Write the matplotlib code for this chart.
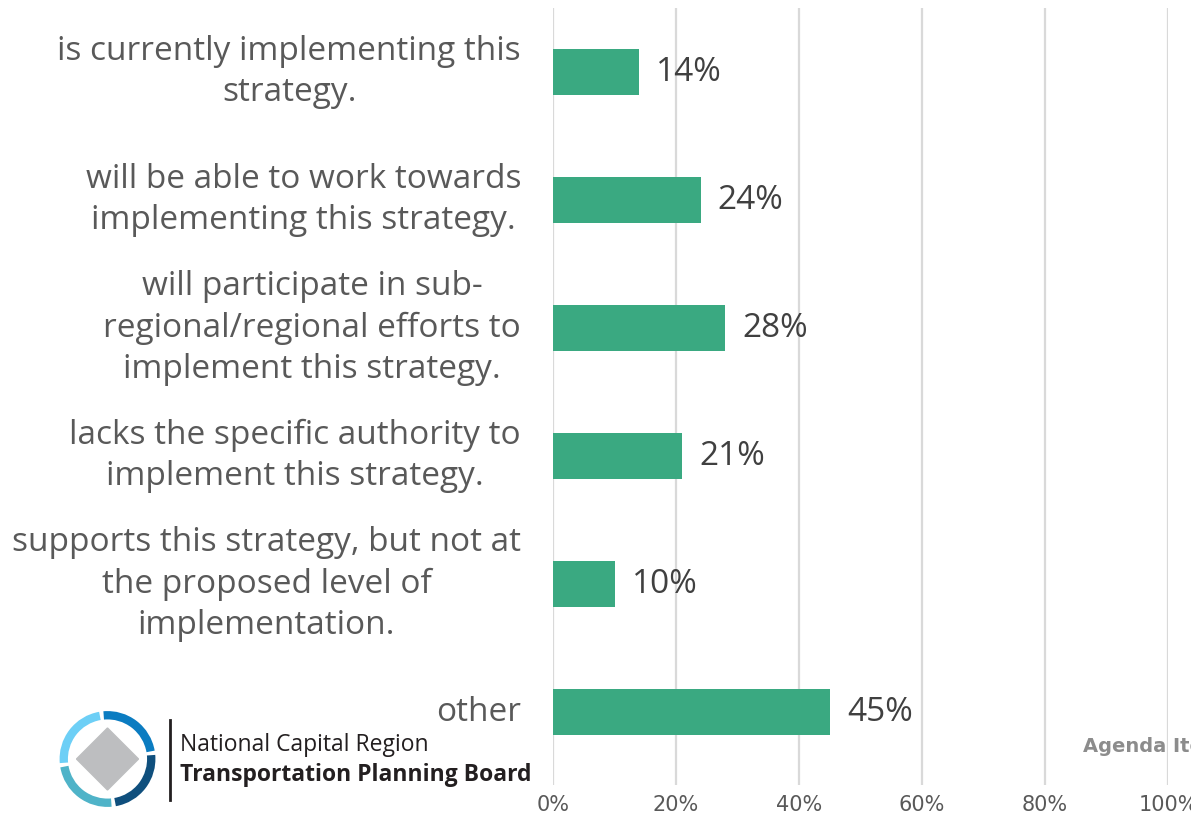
import matplotlib
matplotlib.use("Agg")
import matplotlib.pyplot as plt
from matplotlib.patches import Polygon, Arc

# chart data
categories = [
    "is currently implementing this\nstrategy.",
    "will be able to work towards\nimplementing this strategy.",
    "will participate in sub-\nregional/regional efforts to\nimplement this strategy.",
    "lacks the specific authority to\nimplement this strategy.",
    "supports this strategy, but not at\nthe proposed level of\nimplementation.",
    "other",
]
values = [14, 24, 28, 21, 10, 45]
xticks = [0, 20, 40, 60, 80, 100]
xticklabels = ["0%", "20%", "40%", "60%", "80%", "100%"]

bar_color = "#3aa981"
label_gray = "#595959"

fig = plt.figure(figsize=(11.91, 8.14), dpi=100)
ax = fig.add_axes([553/1191, 1-785/814, (1168-553)/1191, (785-8)/814])

ypos = list(range(len(categories)))
ax.barh(ypos, values, height=0.355, color=bar_color, zorder=3)
for y, v in zip(ypos, values):
    ax.text(v + 2.8, y, f"{v}%", va="center", ha="left", fontsize=24,
            color="#404040", family="Open Sans")

ax.set_xlim(0, 100)
ax.set_ylim(5.57, -0.5)
ax.set_xticks(xticks)
ax.set_xticklabels(xticklabels, fontsize=15, color=label_gray,
                   family="Liberation Sans Narrow")
ax.set_yticks([])
ax.tick_params(axis="x", length=0, pad=7)
ax.grid(axis="x", color="#d9d9d9", linewidth=1.6, zorder=0)
for s in ax.spines.values():
    s.set_visible(False)

# category labels, block right-aligned, lines centred
for y, c in zip(ypos, categories):
    ax.text(-0.052, y, c, transform=ax.get_yaxis_transform(), ha="right",
            va="center", multialignment="center", fontsize=24,
            color=label_gray, family="Open Sans", linespacing=1.32)

fig.text(1083/1191, 1-747/814, "Agenda Item", fontsize=14, color="#8c8c8c",
         family="Liberation Sans Narrow", fontweight="bold", va="center")

# logo
lax = fig.add_axes([50/1191, 1-814/814, 115/1191, 110/814])
lax.set_xlim(-1.1, 1.1)
lax.set_ylim(-1.1, 1.1)
lax.set_aspect("equal")
lax.axis("off")
lax.add_patch(Polygon([[0, 0.62], [0.62, 0], [0, -0.62], [-0.62, 0]],
                      closed=True, color="#bdbec0"))
lax.add_patch(Arc((0, 0), 1.75, 1.75, angle=0, theta1=100, theta2=185,
                  color="#6dcff6", lw=6))
lax.add_patch(Arc((0, 0), 1.75, 1.75, angle=0, theta1=10, theta2=95,
                  color="#0b7cc1", lw=6))
lax.add_patch(Arc((0, 0), 1.75, 1.75, angle=0, theta1=280, theta2=365,
                  color="#0f4f7d", lw=6))
lax.add_patch(Arc((0, 0), 1.75, 1.75, angle=0, theta1=190, theta2=275,
                  color="#4fb3c8", lw=6))
fig.add_artist(plt.Line2D([170/1191, 170/1191], [1-800/814, 1-720/814],
                          color="#231f20", lw=2))
fig.text(180/1191, 1-745/814, "National Capital Region", fontsize=16.5,
         color="#231f20", family="Open Sans", va="center")
fig.text(180/1191, 1-775/814, "Transportation Planning Board", fontsize=16.5,
         color="#231f20", family="Open Sans", fontweight="bold", va="center")

fig.savefig("out.png", dpi=100)
